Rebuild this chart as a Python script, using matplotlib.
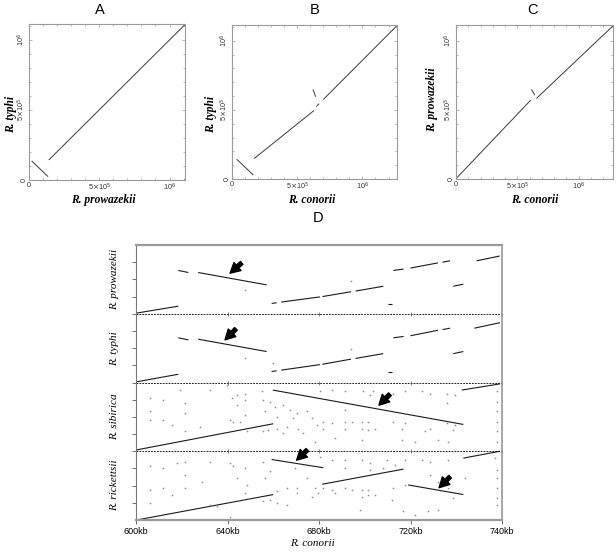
import matplotlib
matplotlib.use("Agg")
import matplotlib.pyplot as plt
from matplotlib.transforms import ScaledTranslation
import numpy as np

W, H = 616, 552
DPI = 100

# ---------------- data: top dot plots (positions in bp) ----------------
# each segment: (x0, y0, x1, y1)
A_segments = [
    (0.019e6, 0.136e6, 0.136e6, 0.024e6),
    (0.141e6, 0.143e6, 1.11e6, 1.11e6),
]
B_segments = [
    (0.036e6, 0.143e6, 0.163e6, 0.029e6),
    (0.170e6, 0.148e6, 0.628e6, 0.495e6),
    (0.621e6, 0.648e6, 0.641e6, 0.595e6),
    (0.646e6, 0.524e6, 0.668e6, 0.545e6),
    (0.700e6, 0.575e6, 1.262e6, 1.107e6),
]
C_segments = [
    (0.005e6, 0.007e6, 0.610e6, 0.571e6),
    (0.615e6, 0.648e6, 0.642e6, 0.607e6),
    (0.656e6, 0.583e6, 1.279e6, 1.107e6),
]
top_xlim = [1.11e6, 1.265e6, 1.28e6]
top_ylim = 1.114e6
top_ticks = [0, 5e5, 1e6]
top_ticklabels = ["0", r"5$\times$10$^5$", r"10$^6$"]
top_titles = ["A", "B", "C"]
top_xlabels = ["R. prowazekii", "R. conorii", "R. conorii"]
top_ylabels = ["R. typhi", "R. typhi", "R. prowazekii"]

# ---------------- data: panel D (x in kb of R. conorii, y in % of window) ----------------
row_names = ["R. prowazekii", "R. typhi", "R. sibirica", "R. rickettsii"]
row1_segments = [
    (600.3, 1, 618.5, 11),
    (618.5, 63, 622.9, 60), (627.2, 60, 657.1, 42),
    (659.3, 15, 661.5, 16), (663.5, 17, 680.4, 24.5), (681.5, 25, 694.0, 32), (696.0, 33, 708.1, 40),
    (712.5, 63, 717.0, 65), (720.0, 66.5, 732.0, 74), (734.0, 75, 737.3, 77),
    (738.7, 40, 743.1, 43),
    (748.9, 77, 759.0, 84),
    (710.3, 14, 711.8, 14),
]
row2_segments = [
    (600.3, 1, 618.5, 12),
    (618.5, 65, 622.9, 62), (627.2, 63, 657.1, 45),
    (659.3, 16, 661.5, 17), (663.5, 18, 680.4, 26), (681.5, 26.5, 694.0, 34), (696.0, 35, 708.1, 42),
    (712.5, 65, 717.0, 67), (720.0, 68, 732.0, 76), (734.0, 77, 737.3, 79),
    (738.7, 42, 743.1, 45),
    (747.9, 79, 759.1, 87),
    (710.3, 15, 711.8, 15),
]
row3_segments = [
    (600.3, 2, 660.0, 40),
    (659.8, 89, 743.1, 39),
    (742.4, 89, 759.1, 98),
]
row4_segments = [
    (600.3, 0, 660.0, 37),
    (659.3, 88, 681.9, 76),
    (681.4, 52, 716.9, 74),
    (719.0, 51, 743.1, 37),
    (743.1, 90, 759.1, 100),
]
row1_dots_x = [647.7, 693.9]
row1_dots_y = [34, 48]
row2_dots_x = [647.7, 693.9, 659.8]
row2_dots_y = [35, 49, 28]
row3_dots_x = [606.1, 612.0, 621.4, 619.2, 606.1, 612.0, 606.1, 621.4, 615.6, 621.4, 628.0, 632.4,
               639.7, 641.8, 644.0, 644.0, 647.7, 647.7, 641.1, 642.6, 645.5, 647.7, 648.4, 655.0,
               655.7, 656.4, 658.6, 660.8, 661.5, 664.4, 667.3, 668.8, 670.3, 671.0, 674.6, 676.8,
               673.2, 679.0, 678.3, 655.7, 657.9, 661.5, 664.4, 665.9,
               680.4, 685.5, 691.4, 699.4, 702.3, 703.8, 712.5, 717.6, 724.9, 728.5, 735.8, 735.8,
               739.5, 757.7, 757.7, 757.7, 757.7, 757.7, 757.7, 691.4, 681.9, 685.5, 691.4, 694.3,
               698.7, 701.6, 691.4, 698.7, 701.6, 704.5, 712.5, 716.1, 717.6, 726.4, 728.5, 735.8,
               738.7, 739.5, 681.9, 687.0, 698.7, 716.1, 722.0, 732.2, 736.6]
row3_dots_y = [77, 75, 70, 89, 58, 46, 46, 55, 38, 29, 36, 89,
               97, 77, 82, 67, 84, 75, 46, 43, 43, 53, 29, 87,
               75, 58, 72, 65, 50, 67, 60, 48, 55, 33, 58, 48,
               26, 38, 14, 29, 31, 33, 26, 36,
               87, 89, 87, 87, 82, 87, 84, 87, 87, 84, 84, 70,
               82, 87, 72, 58, 43, 29, 14, 60, 43, 41, 43, 43,
               43, 43, 33, 33, 31, 33, 43, 33, 41, 29, 33, 41,
               31, 38, 33, 19, 17, 17, 14, 17, 14]
row4_dots_x = [606.1, 612.0, 621.4, 617.8, 606.1, 612.0, 615.6, 621.4, 621.4, 628.7, 632.4, 632.4,
               635.3, 641.1, 642.6, 644.0, 647.7, 648.4, 647.7, 655.7, 656.4, 658.6, 661.5, 665.9,
               669.5, 670.3, 670.3, 674.6, 678.3, 676.8, 679.7, 655.7, 658.6, 661.5, 665.9, 606.1,
               641.1,
               680.4, 685.5, 691.4, 698.7, 702.3, 709.6, 713.2, 717.6, 724.9, 728.5, 736.6, 757.0,
               757.7, 757.7, 757.7, 757.7, 757.7, 691.4, 702.3, 708.1, 681.9, 685.5, 691.4, 694.3,
               698.7, 701.6, 687.0, 698.7, 701.6, 704.5, 712.5, 717.6, 728.5, 732.2, 736.6, 738.7,
               716.9, 722.0, 727.8, 732.2, 697.9, 711.8, 743.8]
row4_dots_y = [78, 75, 85, 83, 44, 46, 37, 66, 46, 56, 85, 22,
               20, 83, 78, 61, 75, 51, 39, 85, 61, 71, 42, 46,
               75, 46, 39, 61, 46, 34, 39, 27, 29, 25, 22, 25,
               5,
               92, 87, 87, 87, 83, 87, 80, 87, 87, 85, 87, 90,
               73, 61, 46, 32, 22, 75, 73, 75, 46, 44, 46, 44,
               44, 44, 39, 34, 37, 37, 46, 51, 66, 56, 46, 32,
               13, 8, 13, 15, 15, 29, 61]
# arrows: (row index, tip_x, tip_y, tail_x, tail_y)
arrows = [
    (0, 641.1, 59, 646.2, 74),
    (1, 638.9, 62, 643.7, 78),
    (2, 706.2, 67, 711.0, 83),
    (3, 670.2, 87, 674.9, 102),
    (3, 732.5, 47, 737.3, 63),
]
d_ticks = [600, 640, 680, 720, 760]
d_ticklabels = ["600kb", "640kb", "680kb", "720kb", "740kb"]
d_xlim = (600, 760)

row_segments = [row1_segments, row2_segments, row3_segments, row4_segments]
row_dots = [(row1_dots_x, row1_dots_y), (row2_dots_x, row2_dots_y),
            (row3_dots_x, row3_dots_y), (row4_dots_x, row4_dots_y)]

# ---------------- figure ----------------
fig = plt.figure(figsize=(W / DPI, H / DPI), dpi=DPI)
SERIF = ["Liberation Serif", "DejaVu Serif"]
SANS = ["Liberation Sans", "DejaVu Sans"]


def px_axes(l, t, r, b):
    return fig.add_axes([l / W, 1 - b / H, (r - l) / W, (b - t) / H])


def px_text(x, y, s, **kw):
    fig.text(x / W, 1 - y / H, s, ha="center", va="center", **kw)


top_boxes = [(29, 24, 185, 180), (232, 25, 397, 179), (456, 25, 613, 179)]
top_segs = [A_segments, B_segments, C_segments]
gray = "#9a9a9a"
for i, box in enumerate(top_boxes):
    ax = px_axes(*box)
    for (x0, y0, x1, y1) in top_segs[i]:
        ax.plot([x0, x1], [y0, y1], color="#3a3a3a", lw=0.7, solid_capstyle="butt")
    ax.set_xlim(0, top_xlim[i])
    ax.set_ylim(0, top_ylim)
    ax.set_xticks(top_ticks)
    ax.set_xticklabels(top_ticklabels, fontsize=5.2, family=SANS, color="#333333")
    ax.set_yticks(top_ticks)
    ax.set_yticklabels(top_ticklabels, fontsize=5.2, family=SANS, color="#333333",
                       rotation=90, va="center")
    ax.set_xticks(np.arange(0, top_xlim[i], 1e5), minor=True)
    ax.set_yticks(np.arange(0, top_ylim, 1e5), minor=True)
    ax.tick_params(which="both", direction="in", top=True, right=True, color=gray,
                   width=0.5, pad=1.2)
    ax.tick_params(which="major", length=2.5)
    ax.tick_params(which="minor", length=1.5)
    for sp in ax.spines.values():
        sp.set_color(gray)
        sp.set_linewidth(0.8)

title_pos = [(100, 10), (315, 10), (533, 10)]
xlab_pos = [(103, 200), (312, 200), (535, 200)]
ylab_pos = [(11, 114), (211, 114), (432, 100)]
for i in range(3):
    px_text(*title_pos[i], top_titles[i], fontsize=10.5, family=SANS)
    px_text(*xlab_pos[i], top_xlabels[i], fontsize=8.3, family=SERIF,
            style="italic", weight="bold")
    px_text(*ylab_pos[i], top_ylabels[i], fontsize=8.3, family=SERIF,
            style="italic", weight="bold", rotation=90)

# ---------------- panel D ----------------
axd = px_axes(136, 245, 502, 520)
nrows = len(row_names)
for r in range(nrows):
    base = (nrows - 1 - r) * 100
    for (x0, y0, x1, y1) in row_segments[r]:
        axd.plot([x0, x1], [base + y0, base + y1], color="#1a1a1a", lw=0.8,
                 solid_capstyle="butt")
    dx, dy = row_dots[r]
    axd.plot(dx, [base + v for v in dy], ls="none", marker="s", ms=1.1, mew=0,
             color="#8c8c8c")
for (r, tx, ty, sx, sy) in arrows:
    base = (nrows - 1 - r) * 100
    axd.annotate("", xy=(tx, base + ty), xytext=(sx, base + sy),
                 arrowprops=dict(arrowstyle="simple,head_length=0.8,head_width=0.85,tail_width=0.3",
                                 color="black", shrinkA=0, shrinkB=0, mutation_scale=9),
                 annotation_clip=False)
for k in range(1, nrows):
    axd.axhline(k * 100, color="black", lw=0.6, ls=(0, (2.2, 1.3)))
    axd.plot(d_ticks, [k * 100] * len(d_ticks), ls="none", marker="|", ms=3.5,
             mew=0.5, color="#555555")

axd.set_xlim(*d_xlim)
axd.set_ylim(0, nrows * 100)
axd.set_xticks(d_ticks)
axd.set_xticklabels(d_ticklabels, fontsize=6.5, family=SANS)
for lab in axd.get_xticklabels():
    lab.set_transform(lab.get_transform() + ScaledTranslation(-7 / DPI, 0, fig.dpi_scale_trans))
axd.set_yticks(np.arange(25, nrows * 100, 25))
axd.set_yticklabels([])
axd.tick_params(axis="x", direction="out", length=3, width=0.6, color="#555555", pad=2)
axd.tick_params(axis="y", direction="out", length=3, width=0.6, color="#555555")
for name, sp in axd.spines.items():
    sp.set_color(gray)
axd.spines["top"].set_linewidth(1.6)
axd.spines["bottom"].set_linewidth(1.6)
axd.spines["right"].set_linewidth(1.2)
axd.spines["left"].set_linewidth(0.8)
axd.spines["left"].set_color("#777777")

px_text(318, 218, "D", fontsize=10.5, family=SANS)
row_px_h = 275 / nrows
for r in range(nrows):
    px_text(115, 245 + row_px_h * (r + 0.5), row_names[r], fontsize=8, family=SERIF,
            style="italic", rotation=90)
px_text(312, 543, "R. conorii", fontsize=8, family=SERIF, style="italic")

fig.savefig("out.png", dpi=DPI)
